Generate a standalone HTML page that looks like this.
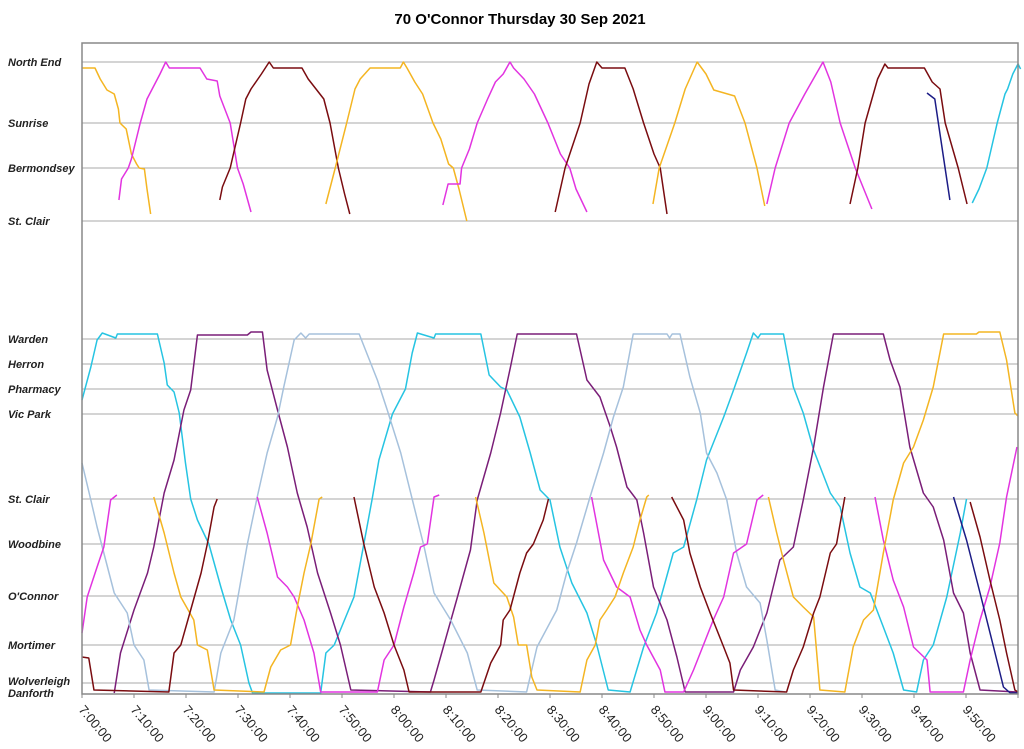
<!DOCTYPE html>
<html><head><meta charset="utf-8"><style>
body{margin:0;background:#fff;}
svg{display:block;font-family:"Liberation Sans",sans-serif;}
</style></head><body>
<svg id="chart" width="1024" height="749">
<text x="520" y="24" text-anchor="middle" font-size="15" font-weight="bold">70 O'Connor Thursday 30 Sep 2021</text>
<g id="grid"></g><g id="trips"></g><g id="axes"></g>
</svg>
<script>
const stationNames=["North End","Sunrise","Bermondsey","St. Clair","Warden","Herron","Pharmacy","Vic Park","St. Clair","Woodbine","O'Connor","Mortimer","Wolverleigh","Danforth"];
const stationPos=[632,571,526,473,355,330,305,280,195,150,98,49,11,0];
const tickLabels=["7:00:00","7:10:00","7:20:00","7:30:00","7:40:00","7:50:00","8:00:00","8:10:00","8:20:00","8:30:00","8:40:00","8:50:00","9:00:00","9:10:00","9:20:00","9:30:00","9:40:00","9:50:00"];
const colors={yellow:"#f4b522",magenta:"#e234e0",brown:"#7a0c10",cyan:"#26c4e2",purple:"#7a1e78",lightblue:"#a6c1dc",navy:"#1c1c86"};
const tripColors=["yellow","magenta","brown","yellow","magenta","brown","yellow","magenta","brown","navy","cyan",
"cyan","purple","lightblue","magenta","magenta","magenta","magenta","yellow","yellow","yellow","brown","brown","brown","brown","navy"];
const trips=[
[[0,626],[2.5,626],[3.5,615],[4.8,604],[6.2,600],[7,585],[7.3,571],[8.5,565],[9.5,540],[10.5,530],[11,526],[12,525],[12.5,505],[13.2,480]],
[[7.1,494],[7.6,515],[8.9,526],[9.5,535],[11.2,571],[12.5,595],[13.5,605],[15,620],[16.1,632],[16.8,626],[22.7,626],[24,615],[26,613],[26.5,598],[28.5,571],[29.9,526],[31,510],[32.5,482]],
[[26.5,494],[27,507],[28.5,526],[30.5,571],[31.5,595],[32.5,605],[34.5,620],[36,632],[36.8,626],[42.3,626],[43.5,615],[45,605],[46.5,595],[47.7,571],[49.3,526],[50.5,500],[51.5,480]],
[[46.9,490],[48.7,526],[50.9,571],[52.5,605],[53.5,615],[55.4,626],[61.2,626],[61.8,632],[62.5,626],[64,612],[65.5,600],[67.5,571],[69,555],[70.5,530],[71.4,526],[72.5,505],[74,473]],
[[69.4,489],[70.4,510],[72.7,510],[73,526],[74.5,545],[76,571],[78,595],[79.5,612],[81,620],[82.3,632],[83,626],[85,615],[87,600],[89.6,571],[92,540],[93.8,526],[95,505],[97.1,482]],
[[91,482],[92.9,526],[95.8,571],[97.5,610],[99,632],[100,626],[104.4,626],[106,605],[108,571],[110,540],[111.2,526],[112.5,480]],
[[109.8,490],[111,526],[114,571],[116,605],[118.3,632],[120,620],[121.5,604],[125.5,598],[127.5,571],[129.8,526],[131.3,488]],
[[131.7,490],[133.3,526],[136,571],[139,600],[142.5,632],[144,612],[145.8,571],[148.7,526],[151.9,485]],
[[147.7,490],[149.2,526],[150.6,571],[153,615],[154.4,630],[155,626],[162,626],[163.5,612],[165,605],[166,571],[168.5,526],[170.2,490]],
[[162.5,601],[164,595],[165,560],[166.9,494]],
[[171.2,491],[172.5,505],[174,526],[176,571],[177.5,600],[178,605],[179,620],[180,630],[180.5,625]],
[[0,294],[1.7,327],[2.9,354],[3.9,361],[6.5,356],[6.8,360],[14.5,360],[15.8,331],[16.4,309],[17.7,302],[18.7,281],[19.9,231],[20.9,195],[22.2,174],[24.4,150],[26.7,107],[28.6,74],[30.5,49],[32.1,11],[32.8,1],[45.9,1],[46.9,41],[48.5,49],[52.3,97],[54.2,150],[55.8,195],[57.1,234],[59.7,280],[62.2,305],[63.5,341],[64.5,361],[67.7,356],[68,360],[76.7,360],[78.3,319],[80.5,307],[81.7,304],[84.2,277],[86.2,241],[88.1,204],[90,194],[91.9,147],[94.2,111],[97.1,81],[99,49],[101.2,4],[105.4,2],[108,47],[110.5,81],[113.7,141],[115.7,147],[118.2,194],[120.1,234],[123.4,277],[125.3,304],[127.8,341],[129.1,361],[130,356],[130.5,360],[134.9,360],[136.8,307],[138.7,281],[140.7,244],[143.9,201],[145.8,187],[147.7,141],[149.6,107],[151.6,101],[154.1,67],[156,41],[158,4],[160.5,2],[161.8,34],[163.7,49],[166.3,97],[168.9,161],[170.1,195]],
[[6.2,1],[7.4,41],[10,84],[12.6,121],[13.8,147],[15.8,201],[17.7,234],[19.6,284],[20.9,304],[22.2,359],[31.8,359],[32.5,362],[34.7,362],[35.6,324],[37.6,284],[39.5,247],[41.4,201],[43.3,167],[45.3,121],[47.8,81],[49.7,49],[51.7,4],[67,2],[67.7,14],[69.6,49],[72.2,97],[74.7,144],[76,194],[78.6,241],[80.5,281],[82.4,327],[83.7,360],[95.1,360],[97.1,314],[99.6,297],[101.6,267],[102.8,247],[104.8,207],[106.7,194],[108,161],[109.9,107],[112.5,74],[114.4,37],[116,2],[125.3,2],[126.6,24],[129.1,47],[131.7,81],[134.2,134],[136.8,147],[138.7,194],[140.7,247],[142.6,307],[144.5,360],[154.1,360],[155.4,334],[157.3,307],[159.2,247],[161.8,201],[163.7,187],[165.7,154],[167.6,101],[169.5,81],[170.8,41],[172.7,4],[180,2]],
[[0,231],[1.7,194],[2.9,167],[4.9,127],[6.2,101],[8.7,81],[10,49],[11.9,34],[12.9,4],[25.4,2],[26.7,41],[29.2,74],[31.8,150],[33.7,197],[35.6,241],[37.6,277],[38.8,307],[40.8,354],[42.1,361],[43,356],[43.7,360],[53.3,360],[56.8,314],[58.7,284],[61.3,241],[64.5,174],[65.8,147],[67.7,101],[70.9,74],[74.1,41],[76,4],[85.5,2],[87.5,47],[91.3,84],[93.2,121],[95.1,151],[97.7,197],[100.3,241],[102.2,277],[104.1,307],[106,360],[112.5,360],[113,356],[113.5,360],[115,360],[116.9,317],[118.9,281],[120.1,241],[122.1,221],[124,194],[125.9,141],[127.8,107],[130.4,91],[131.7,54],[133.3,4],[135.2,2]],
[[0,61],[1,97],[2.9,127],[4.2,147],[5.5,194],[6.7,199]],
[[33.7,197],[35.6,161],[37.6,117],[39.5,107],[40.8,97],[42.7,74],[44.6,41],[45.9,2],[56.8,2],[58.1,34],[60,49],[61.9,87],[63.8,121],[65.1,147],[66.4,150],[67.7,197],[68.7,199]],
[[98,197],[100.3,134],[102.8,107],[105.4,97],[107.3,64],[108.6,49],[111.2,24],[112.1,2],[115.7,2],[117.6,24],[119.5,49],[121.4,74],[123.4,97],[125.3,141],[127.8,150],[129.8,194],[131,199]],
[[152.5,197],[154.1,154],[156,114],[158,87],[159.9,47],[162.5,34],[163.1,2],[169.5,2],[170.8,34],[172.7,74],[174.6,107],[176.5,151],[177.8,197],[179.8,247]],
[[13.8,197],[15.8,161],[17.7,121],[19,97],[21.5,74],[22.2,49],[24.1,44],[25.4,4],[35,2],[36.3,27],[38.2,44],[40.1,49],[41.4,87],[42.7,121],[44,150],[45.6,195],[46.2,197]],
[[75.7,197],[77.3,161],[79.2,111],[81.7,97],[83,77],[83.9,49],[85.5,49],[86.5,17],[87.5,4],[95.8,2],[97.1,34],[98.7,49],[99.6,74],[100.9,84],[102.5,97],[104.1,121],[106,147],[107.3,174],[108.6,197],[109,199]],
[[132,197],[133.6,161],[134.9,134],[136.8,97],[138.7,87],[140.7,77],[141.9,4],[146.7,2],[148.3,47],[150.3,74],[152.2,84],[154.1,141],[156,194],[158,231],[159.9,247],[161.8,274],[163.7,307],[165.7,360],[172,360],[172.5,362],[176.5,362],[177.8,334],[179.4,281],[180,278]],
[[0,37],[1.3,36],[2.3,4],[16.7,2],[17.7,41],[19,49],[20.9,84],[22.9,121],[24.1,150],[25.4,187],[26,195]],
[[52.3,197],[54.2,150],[56.2,107],[58.1,81],[60,49],[61.9,24],[62.9,2],[76.7,2],[78.6,31],[80.5,49],[81,74],[82.3,84],[84.2,121],[85.5,141],[86.8,150],[88.7,174],[89.7,195]],
[[113.4,197],[115.7,174],[116.9,141],[118.9,107],[120.8,81],[123.4,47],[124.6,31],[125.3,4],[135.5,2],[136.8,24],[138.7,47],[140.7,81],[141.9,97],[143.9,141],[145.1,150],[146.7,197]],
[[170.8,192],[172.7,157],[174.6,114],[176.5,74],[177.8,41],[179.4,4],[180,2]],
[[167.6,197],[170.1,154],[172.7,101],[175.3,47],[177.2,7],[178.5,1],[180,1]]
];
const X0=82,PXMIN=5.2,Y0=694;
function xs(t){return X0+t*PXMIN;}
function ys(v){return Y0-v;}
const NS="http://www.w3.org/2000/svg";
function mk(tag,attrs,parent){const e=document.createElementNS(NS,tag);for(const k in attrs)e.setAttribute(k,attrs[k]);parent.appendChild(e);return e;}
const grid=document.getElementById('grid'),tg=document.getElementById('trips'),ax=document.getElementById('axes');
stationPos.forEach((p,i)=>{
  const l=mk('line',{x1:X0,x2:1018,y1:ys(p),y2:ys(p),stroke:'#aaa','stroke-width':1},grid);
  
  
  const ty=stationNames[i]==="Wolverleigh"?ys(p)+2:(stationNames[i]==="Danforth"?ys(p)+3:ys(p)+4);
  const t=mk('text',{x:8,y:ty,'font-size':11,'font-weight':'bold','font-style':'italic',fill:'#222'},ax);
  t.textContent=stationNames[i];
  
  
});
trips.forEach((tr,i)=>{
  const pl=mk('polyline',{points:tr.map(p=>xs(p[0])+','+ys(p[1])).join(' '),fill:'none',stroke:colors[tripColors[i]],'stroke-width':1.5,'stroke-linejoin':'round'},tg);
  
  
});
const fr=mk('rect',{x:X0,y:43,width:1018-X0,height:Y0-43,fill:'none',stroke:'#888','stroke-width':1.5},ax);


for(let m=0;m<=180;m+=10){
  const tk=mk('line',{x1:xs(m),x2:xs(m),y1:Y0,y2:Y0+4,stroke:'#888'},ax);
  
  
}
tickLabels.forEach((lb,i)=>{
  const x=xs(i*10);
  const t=mk('text',{x:x-4,y:Y0+16,'font-size':13,fill:'#222',transform:`rotate(50 ${x-4} ${Y0+16})`},ax);
  t.textContent=lb;
  
  
});
</script>
</body></html>
